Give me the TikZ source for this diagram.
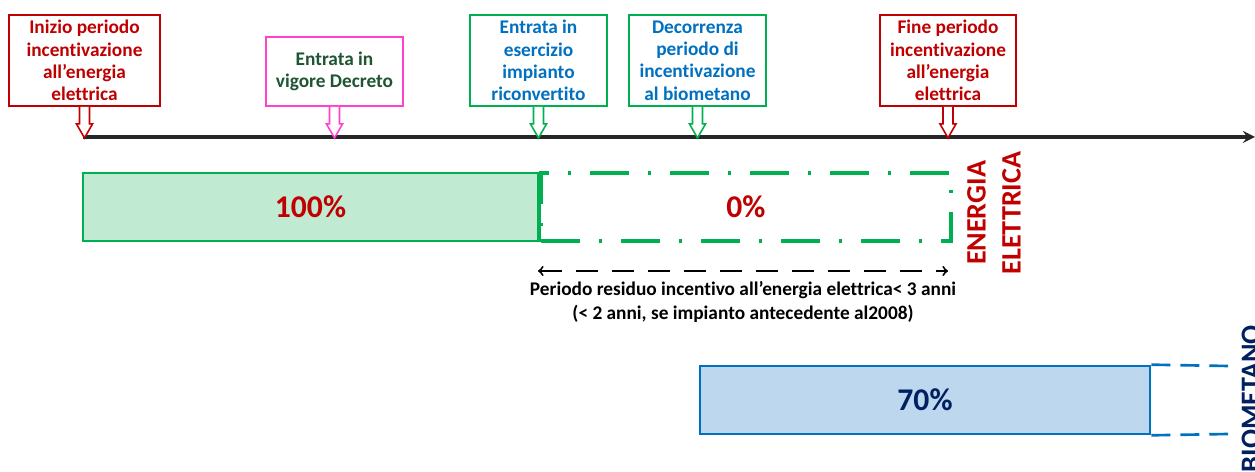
\documentclass[tikz,border=0pt]{standalone}
\usepackage{fontspec}
\setmainfont{Carlito}[Ligatures=NoCommon]
\usepackage{xcolor}
\usetikzlibrary{shapes,arrows,positioning}

\definecolor{gsered}{RGB}{192,0,0}
\definecolor{gsegreen}{RGB}{0,176,80}
\definecolor{gseblue}{RGB}{0,112,192}
\definecolor{gsenavy}{RGB}{0,32,96}
\definecolor{gsepink}{RGB}{255,64,208}
\definecolor{gsedkgreen}{RGB}{30,85,50}
\definecolor{gselightgreen}{RGB}{193,234,210}
\definecolor{gselightblue}{RGB}{189,215,238}
\definecolor{gseaxis}{RGB}{38,38,38}

\begin{document}
\begin{tikzpicture}[
    x=0.02cm, y=-0.02cm,
    event/.style={rectangle, draw, line width=1.1pt, fill=white, inner sep=0pt, minimum height=1.82cm, font=\bfseries\fontsize{11}{12.7}\selectfont, align=center},
    marker/.style={line width=0.9pt, fill=white},
    bar/.style={rectangle, draw, line width=1.2pt, inner sep=0pt, minimum height=1.36cm, font=\bfseries\fontsize{18}{20}\selectfont},
    axis/.style={->, >=stealth, line width=2pt, gseaxis},
    span/.style={<->, >=to, line width=1.1pt, dash pattern=on 0.44cm off 0.28cm},
    sidelabel/.style={rotate=90, inner sep=0pt, font=\bfseries\fontsize{16}{19.8}\selectfont, align=center},
]
    \useasboundingbox (0,0) rectangle (1255,472);

    % Timeline
    \coordinate (t0) at (83,137);
    \coordinate (t1) at (1255,137);
    \draw[axis] (t0) -- (t1);

    % Event boxes above the timeline
    \node[event, draw=gsered, text=gsered, minimum width=3.02cm] (start) at (84.5,60.5) {Inizio periodo\\incentivazione\\all’energia\\elettrica};
    \node[event, draw=gsepink, text=gsedkgreen, minimum width=2.74cm, minimum height=1.38cm] (decree) at (334.5,71.5) {Entrata in\\vigore Decreto};
    \node[event, draw=gsegreen, text=gseblue, minimum width=2.74cm] (plant) at (538.5,60.5) {Entrata in\\esercizio\\impianto\\riconvertito};
    \node[event, draw=gsegreen, text=gseblue, minimum width=2.74cm] (bio) at (697.5,60.5) {Decorrenza\\periodo di\\incentivazione\\al biometano};
    \node[event, draw=gsered, text=gsered, minimum width=2.72cm] (stop) at (948,60.5) {Fine periodo\\incentivazione\\all’energia\\elettrica};

    % Hollow markers down to the timeline
    \foreach \ev/\col in {start/gsered, decree/gsepink, plant/gsegreen, bio/gsegreen, stop/gsered}
        \draw[\col, marker] (\ev.south) ++(-5,0) -- ++(0,17) -- ++(-3,0) -- ++(8,14) -- ++(8,-14) -- ++(-3,0) -- ++(0,-17);

    % Electricity bars
    \node[bar, draw=gsegreen, fill=gselightgreen, text=gsered, minimum width=9.1cm] (full) at (310.5,207) {100\%};
    \node[bar, draw=gsegreen, line width=2.2pt, dash pattern=on 0.78cm off 0.38cm on 0.06cm off 0.38cm, text=gsered, minimum width=8.2cm, right=0pt of full] (zero) {0\%};
    \draw[gsegreen, line width=2pt] (full.north east) -- (full.south east);
    \node[sidelabel, gsered] (el) at (994,213) {ENERGIA\\ELETTRICA};

    % Residual period
    \coordinate (resA) at (538,271);
    \coordinate (resB) at (948,271);
    \draw[span] (resA) -- (resB);
    \node[font=\bfseries\fontsize{11}{13.6}\selectfont, align=center] (res) at (743,302) {Periodo residuo incentivo all’energia elettrica< 3 anni\\(< 2 anni, se impianto antecedente al2008)};

    % Biomethane bar
    \node[bar, draw=gseblue, line width=1.5pt, fill=gselightblue, text=gsenavy, minimum width=9cm] (bm) at (925,400) {70\%};
    \coordinate (bmA) at (1228,366);
    \coordinate (bmB) at (1228,434);
    \draw[gseblue, line width=1.5pt, dash pattern=on 0.38cm off 0.2cm] (bm.north east) -- (bmA);
    \draw[gseblue, line width=1.5pt, dash pattern=on 0.38cm off 0.2cm] (bm.south east) -- (bmB);
    \node[sidelabel, gsenavy, anchor=east] (bml) at (1251,325) {BIOMETANO};
\end{tikzpicture}
\end{document}
